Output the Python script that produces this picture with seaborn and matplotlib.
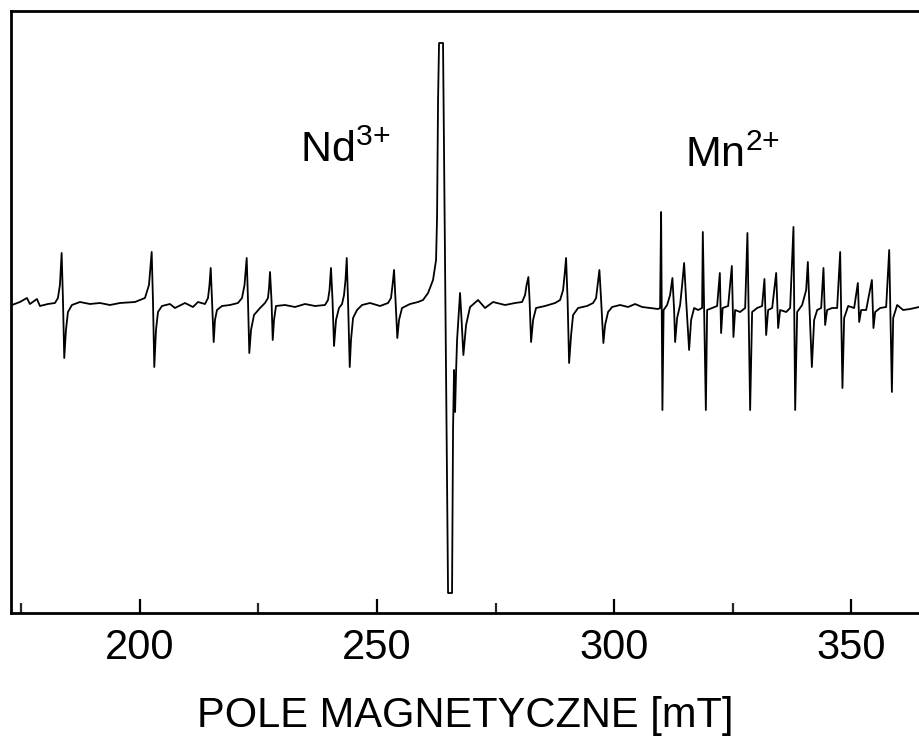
import numpy as np
import pandas as pd
import matplotlib
matplotlib.use("Agg")
import matplotlib.pyplot as plt
import seaborn as sns

# ---- data (field in mT, signal in arbitrary units) ----
nd_field = [173.00, 174.68, 176.16, 176.79, 178.27, 178.90, 180.59, 182.07, 182.70, 183.12,
            183.48, 183.76, 184.03, 184.39, 184.81, 185.65, 187.34, 189.45, 191.56, 193.67,
            195.78, 198.95, 201.05, 201.90, 202.47, 202.74, 203.02, 203.38, 203.80, 204.64,
            206.33, 207.38, 209.49, 211.18, 212.24, 213.71, 214.35, 214.66, 214.92, 215.19,
            215.55, 215.82, 216.24, 217.30, 218.99, 220.67, 221.52, 222.05, 222.51, 222.78,
            223.06, 223.42, 224.05, 225.32, 226.37, 227.00, 227.22, 227.43, 227.74, 228.00,
            228.27, 228.69, 230.59, 232.70, 234.81, 236.92, 239.03, 239.66, 239.98, 240.29,
            240.61, 240.93, 241.35, 241.98, 242.62, 243.04, 243.35, 243.61, 243.88, 244.24,
            244.51, 244.94, 245.78, 246.84, 248.52, 250.63, 252.32, 252.95, 253.27, 253.59,
            253.90, 254.28, 254.64, 255.27, 256.96, 258.65]
nd_signal = [0, 3, 7, 1, 6, -1, 1, 2, 7, 20,
             52, 5, -53, -25, -7, 0, 3, 1, 2, 0,
             2, 3, 7, 20, 53, 5, -62, -25, -7, -1,
             1, -3, 2, -2, 3, 1, 7, 20, 37, 5,
             -37, -15, -5, -1, 0, 2, 7, 20, 47, 5,
             -48, -25, -10, -3, 2, 7, 17, 33, 5, -35,
             -15, -1, 0, -2, 1, -1, 0, 5, 15, 37,
             5, -41, -15, -3, 1, 10, 25, 47, 5, -62,
             -35, -13, -5, 0, 2, -1, 2, 7, 20, 35,
             5, -33, -15, -3, 1, 3]

main_field = [259.70, 260.76, 261.81, 262.45, 262.66, 262.87, 263.08, 263.92, 264.98, 265.82,
              266.03, 266.24, 266.46, 266.67, 266.88, 267.51, 267.83, 268.21, 268.78, 269.62,
              271.31, 272.78, 274.47, 277.00, 279.11, 280.59, 281.22, 281.54, 281.92, 282.17,
              282.49, 282.91, 283.54, 285.44, 287.55, 288.61, 289.24, 289.56, 289.87, 290.19,
              290.51, 290.93, 291.35, 292.40, 294.30, 295.57, 296.20, 296.52, 296.90, 297.26,
              297.74, 298.10, 298.73, 299.58, 301.27, 302.95, 304.43, 305.91, 307.59, 309.28]
main_signal = [5, 12, 25, 45, 88, 205, 262, 262, -288, -288,
               -125, -65, -107, -67, -35, 12, -15, -50, -20, -2,
               5, -3, 3, 0, 2, 3, 10, 20, 28, 5,
               -37, -15, -3, -1, 2, 5, 15, 30, 47, 5,
               -58, -30, -10, -3, -1, 2, 7, 20, 35, 5,
               -38, -20, -7, -2, 0, -2, 1, -2, -3, -4]

mn_field = [309.70, 309.91, 310.19, 310.44, 311.18, 311.81, 312.30, 312.66, 312.87, 313.29,
            313.92, 314.35, 314.77, 315.19, 315.82, 316.24, 316.88, 317.72, 318.56, 318.71,
            319.35, 319.62, 320.67, 321.73, 322.30, 322.57, 322.89, 324.05, 324.83, 325.17,
            325.53, 326.58, 327.64, 328.12, 328.69, 329.11, 330.17, 331.22, 331.71, 332.07,
            332.49, 333.34, 334.18, 334.60, 335.02, 336.29, 337.13, 337.83, 338.19, 338.61,
            339.66, 340.51, 340.86, 341.14, 341.71, 342.19, 342.83, 343.67, 344.16, 344.51,
            344.93, 345.99, 347.04, 347.68, 348.16, 348.52, 349.37, 350.63, 351.41, 351.69,
            352.11, 353.16, 354.37, 354.70, 355.06, 356.12, 357.38, 358.02, 358.59, 358.86,
            359.70, 360.97, 362.44, 364.35]
mn_signal = [-3, 93, -105, -5, 0, 10, 27, -5, -37, -13,
             0, 20, 42, 5, -45, -15, -3, -5, -3, 73,
             -105, -5, -3, -1, 32, -28, -3, -1, 39, -32,
             -5, -7, -3, 72, -105, -7, -3, -1, 26, -30,
             -5, -3, 32, -23, -5, -7, -3, 78, -105, -7,
             0, 15, 43, 5, -62, -15, -5, -3, 37, -20,
             -5, -3, -3, 53, -83, -13, -1, -3, 22, -17,
             -5, -5, 25, -23, -7, -3, -2, 55, -87, -13,
             0, -5, -4, -2]

x_ticks = [200, 250, 300, 350]
x_minor = [175, 225, 275, 325]
x_label = "POLE MAGNETYCZNE [mT]"
ion_names = ["Nd", "Mn"]
ion_charges = ["3+", "2+"]
ion_label_field = [233.8, 315.0]
ion_label_signal = [143, 138]

df = pd.DataFrame({
    "field": nd_field + main_field + mn_field,
    "signal": nd_signal + main_signal + mn_signal,
})

sns.set_theme(style="ticks")
plt.rcParams["font.family"] = ["Liberation Sans", "DejaVu Sans"]
plt.rcParams["mathtext.fontset"] = "custom"
plt.rcParams["mathtext.rm"] = "Liberation Sans"
plt.rcParams["mathtext.it"] = "Liberation Sans"

fig = plt.figure(figsize=(9.19, 7.36), dpi=100)
ax = fig.add_axes([11 / 919, 123 / 736, 1 - 11 / 919 + 0.001, 602 / 736])

sns.lineplot(data=df, x="field", y="signal", sort=False, estimator=None,
             color="black", linewidth=1.3, ax=ax)

ax.set_xlim(172.8, 364.5)
ax.set_ylim(-308, 294)
ax.set_xticks(x_ticks)
ax.set_xticks(x_minor, minor=True)
ax.set_xticklabels([str(t) for t in x_ticks])
ax.set_yticks([])
ax.tick_params(axis="x", which="major", direction="in", length=10, width=1.6,
               labelsize=30, pad=11, colors="black")
ax.tick_params(axis="x", which="minor", direction="in", length=7, width=1.6)
ax.set_xlabel(x_label, fontsize=30, labelpad=20, color="black")
ax.set_ylabel("")
for s in ax.spines.values():
    s.set_linewidth(2.0)
    s.set_color("black")
    s.set_visible(True)

for name, charge, xf, ys in zip(ion_names, ion_charges, ion_label_field, ion_label_signal):
    ax.text(xf, ys, r"$\mathrm{%s}^{\mathrm{%s}}$" % (name, charge.replace("+", "{+}")),
            fontsize=31, ha="left", va="baseline", color="black")

fig.savefig("out.png", dpi=100)
